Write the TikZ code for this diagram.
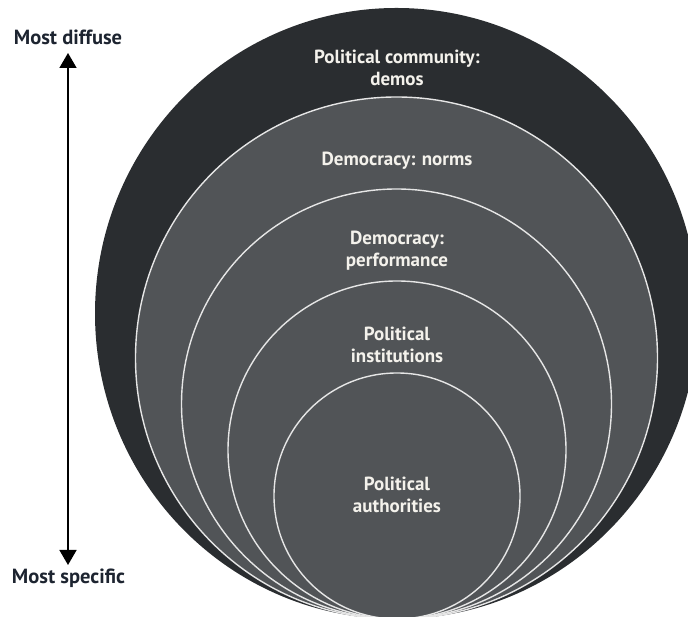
\documentclass[tikz,border=0pt]{standalone}
\usepackage{fontspec}
\setmainfont{PT Sans}
\usetikzlibrary{arrows.meta}
\definecolor{outerdark}{HTML}{2A2D30}
\definecolor{ringgray}{HTML}{515457}
\definecolor{ringline}{HTML}{E6E6E6}
\definecolor{labwhite}{HTML}{F4F2EC}
\definecolor{sidetext}{HTML}{1D2430}
\begin{document}
\begin{tikzpicture}[x=1pt,y=1pt,
  ring/.style={fill=ringgray, draw=ringline, line width=1.4pt},
  lab/.style={text=labwhite, font=\bfseries\fontsize{19}{22}\selectfont, align=center, inner sep=0pt},
  side/.style={text=sidetext, font=\bfseries\fontsize{20.5}{22}\selectfont, inner sep=0pt},
  scale arrow/.style={draw=black, line width=1.5pt,
    {Triangle[width=17pt,length=15pt]}-{Triangle[width=17pt,length=15pt]}}]
\useasboundingbox (0,0) rectangle (688,617);
% nested levels of support, all touching at the bottom
\begin{scope}
  \clip (0,0) rectangle (688,617);
  \fill[outerdark] (396.5,303.5) ellipse [x radius=301.5, y radius=305.5];
  \draw[ring] (396.5,259) circle [radius=261];
  \draw[ring] (396.5,213) circle [radius=215];
  \draw[ring] (397,167) circle [radius=169];
  \draw[ring] (397,121) circle [radius=123];
\end{scope}
% level labels
\node[lab] (demos) at (397,549) {Political community:\\demos};
\node[lab] (norms) at (397,456) {Democracy: norms};
\node[lab] (perf) at (397,366) {Democracy:\\performance};
\node[lab] (inst) at (397,272) {Political\\institutions};
\node[lab] (auth) at (397,122) {Political\\authorities};
% diffuse-to-specific scale
\node[side] (diffuse) at (68,580) {Most diffuse};
\node[side] (specific) at (68.5,39) {Most specific};
\coordinate (tiptop) at (68,564);
\coordinate (tipbot) at (68,52);
\draw[scale arrow] (tipbot) -- (tiptop);
\end{tikzpicture}
\end{document}
